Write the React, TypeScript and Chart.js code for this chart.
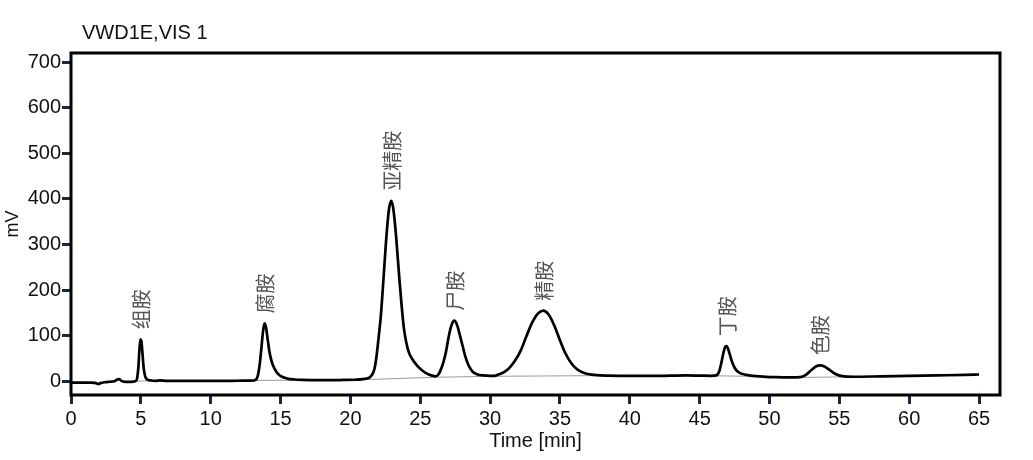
import React, { useEffect, useRef } from "react";
import { Chart, registerables } from "chart.js";

Chart.register(...registerables);

// Chromatogram signal (time in min, signal in mV)
const timeMin = [
  0, 0.5, 1.0, 1.5, 1.8, 1.95, 2.1, 2.4, 2.8, 3.1, 3.3, 3.45, 3.6, 3.9, 4.3,
  4.6, 4.72, 4.82, 4.9, 4.97, 5.04, 5.12, 5.2, 5.3, 5.45, 5.7, 6.0, 6.4, 6.8, 7.5,
  8.5, 9.5, 10.5, 11.5, 12.3, 12.9, 13.2, 13.35, 13.5, 13.62, 13.74, 13.85, 13.96,
  14.08, 14.2, 14.35, 14.55, 14.8, 15.1, 15.5, 16.0, 16.6, 17.5, 18.5, 19.5, 20.3,
  20.9, 21.32, 21.52, 21.72, 21.87, 22.02, 22.17, 22.32, 22.47, 22.62, 22.77, 22.92,
  23.07, 23.22, 23.37, 23.52, 23.67, 23.82, 24.0, 24.2, 24.45, 24.76, 25.1, 25.48,
  25.85, 26.1, 26.3, 26.45, 26.65, 26.85, 27.05, 27.25, 27.43, 27.63, 27.83, 28.03,
  28.23, 28.43, 28.63, 28.83, 29.1, 29.5, 30.0, 30.3, 30.6, 31.0, 31.4, 31.8, 32.2,
  32.6, 33.0, 33.4, 33.8, 34.2, 34.6, 35.0, 35.4, 35.8, 36.2, 36.6, 37.0, 37.6, 38.5,
  40, 42, 44, 45, 45.8, 46.2, 46.4, 46.55, 46.7, 46.82, 46.9, 47.0, 47.15, 47.35,
  47.6, 47.9, 48.3, 48.8, 49.5, 50.5, 51.5, 52.2, 52.6, 53.0, 53.35, 53.6,
  53.9, 54.3, 54.8, 55.3, 56, 58, 60, 62, 64, 65,
];
const signalMV = [
  -3, -3, -3, -3, -4, -6, -4, -2, -1, 0, 4, 5, 1, -1, -1,
  0, 5, 30, 70, 92, 88, 60, 30, 12, 4, 2, 1, 2, 1, 1,
  1, 1, 1, 1, 1.5, 1.5, 3, 10, 35, 70, 108, 127, 118,
  92, 66, 45, 29, 17, 10, 6, 4, 3, 2.5, 2.5, 3, 3.5,
  5, 7.5, 13, 27, 55, 96, 140, 203, 271, 334, 379, 396,
  379, 336, 279, 219, 165, 119, 85, 62, 48, 35, 25, 17,
  12.5, 11, 15, 24, 41, 66, 100, 124, 133, 124, 102, 78,
  54, 37, 26, 19, 15, 13, 12, 12, 15, 20, 30, 46, 68,
  99, 128, 148, 155, 146, 122, 90, 61, 40, 27, 20, 16, 13.5, 12.5,
  12, 12, 13, 12.5, 12, 13, 22, 40, 62, 75, 77, 74, 60, 40,
  25, 18, 14.5, 12, 10.5, 9, 8.5, 9, 14, 25, 33, 35,
  33, 25, 15, 11, 10, 11, 12, 13, 14, 15,
];

// Integration baselines (null = break)
const baseTime = [4.65, 5.6, null, 13.2, 16.5, null, 19.5, 26.1, 30.2, 37.8, null, 46.2, 48.8, null, 52.3, 55.8];
const baseMV = [0, 1.5, null, 2, 2.5, null, 2, 9, 11, 12.5, null, 12, 11, null, 8.5, 10];

// Peak labels
const peakNames = ["组胺", "腐胺", "亚精胺", "尸胺", "精胺", "丁胺", "色胺"];
const peakTimes = [4.97, 13.85, 22.92, 27.43, 33.8, 46.9, 53.6];
const peakHeights = [92, 127, 396, 133, 155, 77, 35];

const chartTitle = "VWD1E,VIS 1";
const xTitle = "Time [min]";
const yTitle = "mV";

const LATIN = "'Liberation Sans', Arial, sans-serif";
const CJK = "'Noto Sans CJK SC', sans-serif";

const overlayPlugin = {
  id: "overlay",
  afterDatasetsDraw(chart: any) {
    const { ctx, chartArea, scales } = chart;
    ctx.save();
    // frame
    ctx.strokeStyle = "#000";
    ctx.lineWidth = 3;
    ctx.strokeRect(chartArea.left, chartArea.top, chartArea.right - chartArea.left, chartArea.bottom - chartArea.top);
    // peak labels
    ctx.fillStyle = "#555";
    ctx.font = `20px ${CJK}`;
    ctx.textAlign = "left";
    ctx.textBaseline = "middle";
    peakNames.forEach((name, i) => {
      const px = scales.x.getPixelForValue(peakTimes[i]);
      const py = scales.y.getPixelForValue(peakHeights[i]) - 10;
      ctx.save();
      ctx.translate(px + 1, py);
      ctx.rotate(-Math.PI / 2);
      ctx.fillText(name, 0, 0);
      ctx.restore();
    });
    // title
    ctx.fillStyle = "#111";
    ctx.font = `20px ${LATIN}`;
    ctx.textAlign = "left";
    ctx.textBaseline = "alphabetic";
    ctx.fillText(chartTitle, 82, 39);
    ctx.restore();
  },
};

export default function App() {
  const ref = useRef<HTMLCanvasElement>(null);
  useEffect(() => {
    if (!ref.current) return;
    const main = timeMin.map((t, i) => ({ x: t, y: signalMV[i] }));
    const base = baseTime.map((t, i) => ({ x: t === null ? NaN : t, y: baseMV[i] }));
    const chart = new Chart(ref.current, {
      type: "line",
      data: {
        datasets: [
          {
            data: main,
            borderColor: "#000",
            borderWidth: 2.7,
            pointRadius: 0,
            cubicInterpolationMode: "monotone",
            fill: false,
            order: 0,
          },
          {
            data: base as any,
            borderColor: "#9a9a9a",
            borderWidth: 1,
            pointRadius: 0,
            spanGaps: false,
            fill: false,
            order: 1,
          },
        ],
      },
      options: {
        animation: false,
        responsive: false,
        maintainAspectRatio: false,
        layout: { padding: { top: 53, right: 33, left: 0, bottom: 0 } },
        plugins: { legend: { display: false }, tooltip: { enabled: false }, title: { display: false } },
        scales: {
          x: {
            type: "linear",
            min: 0,
            max: 66.5,
            afterFit: (s: any) => {
              s.height = 65;
            },
            border: { display: false },
            grid: { drawOnChartArea: false, drawTicks: true, tickLength: 9, color: "#1b2838", lineWidth: 3 },
            ticks: { stepSize: 5, includeBounds: false, color: "#111", padding: 3, font: { family: LATIN, size: 20 }, maxRotation: 0 },
            title: { display: true, text: xTitle, color: "#111", font: { family: LATIN, size: 20 }, padding: { top: 0, bottom: 7 } },
          },
          y: {
            type: "linear",
            min: -30,
            max: 720,
            afterFit: (s: any) => {
              s.width = 71;
            },
            border: { display: false },
            grid: { drawOnChartArea: false, drawTicks: true, tickLength: 9, color: "#1b2838", lineWidth: 3 },
            ticks: { stepSize: 100, includeBounds: false, color: "#111", padding: 1, font: { family: LATIN, size: 20 } },
            title: { display: true, text: yTitle, color: "#111", font: { family: LATIN, size: 18 }, padding: { top: 2, bottom: 0 } },
          },
        },
      },
      plugins: [overlayPlugin],
    });
    return () => chart.destroy();
  }, []);
  return (
    <div style={{ position: "fixed", left: 0, top: 0, width: 1033, height: 460, background: "#fff" }}>
      <canvas ref={ref} width={1033} height={460} />
    </div>
  );
}
